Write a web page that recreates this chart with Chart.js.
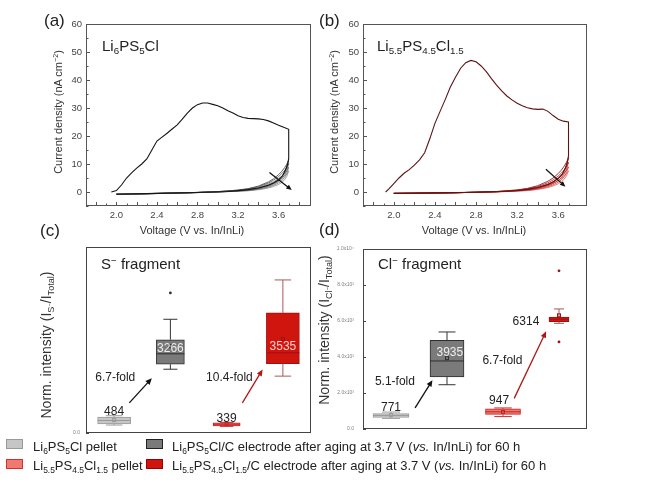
<!DOCTYPE html>
<html>
<head>
<meta charset="utf-8">
<script src="https://cdn.jsdelivr.net/npm/chart.js@4.4.1/dist/chart.umd.min.js"></script>
<style>
  body { margin: 0; background: #fff; font-family: 'Liberation Sans', Arial, sans-serif; color: #222; }
  #fig { position: relative; width: 651px; height: 485px; overflow: hidden; }
  canvas { position: absolute; }
  .t { position: absolute; white-space: nowrap; line-height: 1; }
  .ctr { position: absolute; white-space: nowrap; line-height: 1; transform: translate(-50%, -50%); }
  .rot { position: absolute; white-space: nowrap; line-height: 1; transform: translate(-50%, -50%) rotate(-90deg); }
  sub { font-size: 65%; vertical-align: -0.3em; line-height: 0; }
  sup { font-size: 65%; vertical-align: 0.5em; line-height: 0; }
  .sw { position: absolute; width: 17px; height: 10px; box-sizing: border-box; }
</style>
</head>
<body>
<div id="fig">
  <canvas id="cvA" width="275" height="214" style="left:46px;top:14px"></canvas>
  <canvas id="cvB" width="274" height="214" style="left:323px;top:14px"></canvas>
  <canvas id="boxS" width="275" height="205" style="left:46px;top:237px"></canvas>
  <canvas id="boxCl" width="274" height="204" style="left:323px;top:237px"></canvas>

  <!-- panel letters -->
  <div class="t" style="left:44px;top:12px;font-size:17px">(a)</div>
  <div class="t" style="left:319px;top:12px;font-size:17px">(b)</div>
  <div class="t" style="left:40px;top:222px;font-size:17px">(c)</div>
  <div class="t" style="left:319px;top:221px;font-size:17px">(d)</div>

  <!-- panel titles -->
  <div class="t" style="left:102px;top:38px;font-size:15px">Li<sub>6</sub>PS<sub>5</sub>Cl</div>
  <div class="t" style="left:377px;top:38px;font-size:15px">Li<sub>5.5</sub>PS<sub>4.5</sub>Cl<sub>1.5</sub></div>
  <div class="t" style="left:101px;top:256px;font-size:15px">S<sup>−</sup> fragment</div>
  <div class="t" style="left:378px;top:256px;font-size:15px">Cl<sup>−</sup> fragment</div>

  <!-- axis titles -->
  <div class="rot" style="left:58px;top:112px;font-size:11px;color:#333">Current density (nA cm<sup>−2</sup>)</div>
  <div class="rot" style="left:334px;top:112px;font-size:11px;color:#333">Current density (nA cm<sup>−2</sup>)</div>
  <div class="ctr" style="left:192px;top:230px;font-size:11px;color:#333">Voltage (V vs. In/InLi)</div>
  <div class="ctr" style="left:474px;top:230px;font-size:11px;color:#333">Voltage (V vs. In/InLi)</div>
  <div class="rot" style="left:46px;top:345px;font-size:14px;color:#333">Norm. intensity (I<sub>S<sup>−</sup></sub>/I<sub>Total</sub>)</div>
  <div class="rot" style="left:324px;top:330px;font-size:14px;color:#333">Norm. intensity (I<sub>Cl<sup>−</sup></sub>/I<sub>Total</sub>)</div>

  <!-- legend -->
  <div class="sw" style="left:6px;top:439px;background:#c6c6c6;border:1px solid #999"></div>
  <div class="t" style="left:33px;top:440px;font-size:13px">Li<sub>6</sub>PS<sub>5</sub>Cl pellet</div>
  <div class="sw" style="left:146px;top:439px;background:#7a7a7a;border:1px solid #222"></div>
  <div class="t" style="left:172px;top:440px;font-size:13px">Li<sub>6</sub>PS<sub>5</sub>Cl/C electrode after aging at 3.7 V (<i>vs.</i> In/InLi) for 60 h</div>
  <div class="sw" style="left:6px;top:459px;background:#f07a70;border:1px solid #d03030"></div>
  <div class="t" style="left:33px;top:459px;font-size:13px">Li<sub>5.5</sub>PS<sub>4.5</sub>Cl<sub>1.5</sub> pellet</div>
  <div class="sw" style="left:146px;top:459px;background:#d0150e;border:1px solid #900"></div>
  <div class="t" style="left:172px;top:459px;font-size:13px">Li<sub>5.5</sub>PS<sub>4.5</sub>Cl<sub>1.5</sub>/C electrode after aging at 3.7 V (<i>vs.</i> In/InLi) for 60 h</div>
</div>

<script>
// ---- CV data, panel (a) Li6PS5Cl: first cycle (forward then back) ----
const voltA1 = [1.95, 2.0, 2.05, 2.1, 2.15, 2.2, 2.25, 2.3, 2.35, 2.4, 2.45, 2.5, 2.55, 2.6, 2.65, 2.7, 2.75, 2.8, 2.85, 2.9,
  2.95, 3.0, 3.05, 3.1, 3.15, 3.2, 3.25, 3.3, 3.35, 3.4, 3.45, 3.5, 3.55, 3.6, 3.65, 3.7,
  3.7, 3.69, 3.67, 3.64, 3.6, 3.55, 3.5, 3.4, 3.3, 3.2, 3.1, 2.8, 2.4, 2.0];
const currA1 = [0, 0.5, 2.5, 5.0, 6.8, 8.5, 10.0, 11.8, 15.0, 18.2, 19.6, 21.0, 22.5, 24.0, 26.0, 28.2, 30.0, 31.2, 31.8, 31.8,
  31.3, 30.8, 30.0, 29.0, 28.2, 27.2, 26.6, 26.3, 26.2, 26.1, 25.9, 25.4, 24.6, 23.8, 23.1, 22.4,
  12.0, 10.0, 8.0, 5.8, 4.3, 3.2, 2.4, 1.4, 0.85, 0.5, 0.2, -0.2, -0.5, -0.8];

// later cycles share one voltage sweep (forward then back)
const loopV = [2.0, 2.2, 2.4, 2.6, 2.8, 3.0, 3.1, 3.2, 3.3, 3.35, 3.4, 3.45, 3.5, 3.55, 3.6, 3.63, 3.66, 3.68, 3.7,
  3.69, 3.68, 3.66, 3.63, 3.6, 3.55, 3.5, 3.4, 3.3, 3.2, 3.0, 2.8, 2.6, 2.4, 2.2, 2.0];
const loopsA = [
  [-0.8, -0.7, -0.55, -0.4, -0.2, 0.05, 0.25, 0.45, 0.75, 1.0, 1.35, 1.8, 2.4, 3.2, 4.4, 5.4, 7.0, 8.7, 11.5,
    10.6, 9.9, 8.7, 7.3, 6.2, 4.7, 3.6, 2.1, 1.2, 0.7, 0.15, -0.15, -0.35, -0.5, -0.65, -0.8],
  [-0.8, -0.7, -0.55, -0.4, -0.2, 0.03, 0.2, 0.38, 0.63, 0.85, 1.15, 1.55, 2.05, 2.75, 3.8, 4.7, 6.1, 7.6, 10.2,
    9.4, 8.8, 7.7, 6.5, 5.5, 4.2, 3.2, 1.9, 1.1, 0.62, 0.12, -0.15, -0.35, -0.5, -0.65, -0.8],
  [-0.8, -0.7, -0.55, -0.4, -0.2, 0.02, 0.16, 0.32, 0.53, 0.72, 0.97, 1.3, 1.75, 2.35, 3.25, 4.0, 5.2, 6.5, 8.9,
    8.2, 7.6, 6.7, 5.6, 4.8, 3.6, 2.8, 1.65, 0.95, 0.55, 0.1, -0.15, -0.35, -0.5, -0.65, -0.8],
  [-0.8, -0.7, -0.55, -0.4, -0.22, 0.0, 0.13, 0.26, 0.44, 0.6, 0.8, 1.08, 1.45, 1.95, 2.7, 3.35, 4.4, 5.5, 7.6,
    7.0, 6.5, 5.7, 4.8, 4.1, 3.1, 2.4, 1.4, 0.8, 0.47, 0.08, -0.15, -0.35, -0.5, -0.65, -0.8]
];

// ---- CV data, panel (b) Li5.5PS4.5Cl1.5 ----
const voltB1 = [1.92, 1.95, 2.0, 2.05, 2.1, 2.15, 2.2, 2.25, 2.3, 2.35, 2.4, 2.45, 2.5, 2.55, 2.6, 2.65, 2.7, 2.75, 2.8, 2.85, 2.9,
  2.95, 3.0, 3.05, 3.1, 3.15, 3.2, 3.25, 3.3, 3.35, 3.4, 3.45, 3.5, 3.55, 3.6, 3.65, 3.7,
  3.7, 3.69, 3.67, 3.64, 3.6, 3.55, 3.5, 3.4, 3.3, 3.2, 3.1, 2.8, 2.4, 2.0];
const currB1 = [0, 1.0, 3.0, 5.0, 6.7, 8.0, 9.6, 11.5, 14.0, 19.0, 24.5, 28.8, 33.0, 37.5, 41.0, 44.2, 46.2, 47.0, 46.5, 45.0, 43.0,
  40.5, 38.2, 36.1, 34.3, 32.9, 31.7, 30.8, 30.1, 29.7, 29.5, 29.6, 28.8, 27.3, 26.0, 25.3, 25.0,
  13.0, 10.8, 8.6, 6.4, 4.9, 3.6, 2.7, 1.6, 0.95, 0.55, 0.25, -0.1, -0.3, -0.5];
const loopsB = [
  [-0.5, -0.45, -0.35, -0.25, -0.1, 0.1, 0.3, 0.52, 0.85, 1.12, 1.5, 2.0, 2.65, 3.5, 4.8, 5.9, 7.6, 9.4, 12.3,
    11.4, 10.6, 9.3, 7.8, 6.6, 5.0, 3.85, 2.25, 1.3, 0.75, 0.18, -0.1, -0.25, -0.35, -0.45, -0.5],
  [-0.5, -0.45, -0.35, -0.25, -0.1, 0.08, 0.25, 0.44, 0.72, 0.95, 1.27, 1.7, 2.25, 3.0, 4.1, 5.1, 6.5, 8.1, 10.6,
    9.8, 9.1, 8.0, 6.7, 5.7, 4.3, 3.3, 1.95, 1.12, 0.65, 0.15, -0.1, -0.25, -0.35, -0.45, -0.5],
  [-0.5, -0.45, -0.35, -0.25, -0.1, 0.06, 0.2, 0.36, 0.6, 0.8, 1.07, 1.43, 1.9, 2.55, 3.5, 4.3, 5.5, 6.9, 9.0,
    8.3, 7.7, 6.8, 5.7, 4.9, 3.7, 2.85, 1.68, 0.97, 0.56, 0.12, -0.1, -0.25, -0.35, -0.45, -0.5],
  [-0.5, -0.45, -0.35, -0.25, -0.1, 0.04, 0.16, 0.3, 0.5, 0.67, 0.9, 1.2, 1.6, 2.15, 2.95, 3.65, 4.65, 5.8, 7.6,
    7.0, 6.5, 5.7, 4.8, 4.1, 3.1, 2.4, 1.42, 0.82, 0.48, 0.1, -0.1, -0.25, -0.35, -0.45, -0.5]
];

// arrows showing the decay over cycles: [V start, I start, V end, I end]
const cvArrowA = [3.51, 7.0, 3.73, 0.7];
const cvArrowB = [3.48, 8.1, 3.67, 1.9];

// ---- ToF-SIMS box plots ----
const groups = ['Li6PS5Cl pellet', 'Li6PS5Cl/C aged', 'Li5.5PS4.5Cl1.5 pellet', 'Li5.5PS4.5Cl1.5/C aged'];

// S- fragment
const sLow  = [300, 2400, 250, 2140];
const sQ1   = [340, 2590, 270, 2610];
const sMed  = [470, 2980, 330, 3020];
const sQ3   = [600, 3510, 380, 4520];
const sHigh = [650, 4280, 400, 5760];
const sMean = [484, 3266, 339, 3535];
const sOut  = [[], [5270], [], []];

// Cl- fragment
const clLow  = [590, 2460, 690, 5870];
const clQ1   = [640, 2900, 810, 5960];
const clMed  = [745, 3780, 955, 6100];
const clQ3   = [850, 4930, 1120, 6220];
const clHigh = [940, 5390, 1170, 6670];
const clMean = [771, 3935, 947, 6314];
const clOut  = [[], [], [], [8790, 4840]];

const boxFill   = ['#c6c6c6', '#7a7a7a', '#f07a70', '#d0150e'];
const boxEdge   = ['#9a9a9a', '#2e2e2e', '#c82020', '#a01010'];
const whiskerCl = ['#999999', '#333333', '#c03030', '#a85858'];

Chart.defaults.font.family = "'Liberation Sans', Arial, sans-serif";
Chart.defaults.color = '#444';

function zip(xs, ys) {
  return xs.map((x, k) => ({ x: x, y: ys[k] }));
}

function drawArrow(ctx, x1, y1, x2, y2, color, head) {
  const ang = Math.atan2(y2 - y1, x2 - x1);
  ctx.save();
  ctx.strokeStyle = color;
  ctx.fillStyle = color;
  ctx.lineWidth = 1.3;
  ctx.beginPath();
  ctx.moveTo(x1, y1);
  ctx.lineTo(x2 - Math.cos(ang) * head * 0.7, y2 - Math.sin(ang) * head * 0.7);
  ctx.stroke();
  ctx.beginPath();
  ctx.moveTo(x2, y2);
  ctx.lineTo(x2 - head * Math.cos(ang - 0.42), y2 - head * Math.sin(ang - 0.42));
  ctx.lineTo(x2 - head * Math.cos(ang + 0.42), y2 - head * Math.sin(ang + 0.42));
  ctx.closePath();
  ctx.fill();
  ctx.restore();
}

// box around the plot area plus inward tick marks
function framePlugin(xLen, yLen, color) {
  return {
    id: 'frame',
    afterDatasetsDraw(chart) {
      const { ctx, chartArea: a, scales: { x, y } } = chart;
      ctx.save();
      ctx.strokeStyle = color;
      ctx.lineWidth = 1;
      ctx.strokeRect(Math.round(a.left) + 0.5, Math.round(a.top) + 0.5, Math.round(a.width) - 1, Math.round(a.height) - 1);
      ctx.beginPath();
      if (xLen) {
        x.ticks.forEach(t => {
          const len = xLen(t.value);
          if (!len) return;
          const px = Math.round(x.getPixelForValue(t.value)) + 0.5;
          ctx.moveTo(px, a.bottom);
          ctx.lineTo(px, a.bottom - len);
        });
      }
      y.ticks.forEach(t => {
        const len = yLen(t.value);
        if (!len) return;
        const py = Math.round(y.getPixelForValue(t.value)) + 0.5;
        ctx.moveTo(a.left, py);
        ctx.lineTo(a.left + len, py);
      });
      ctx.stroke();
      ctx.restore();
    }
  };
}

function isStep(v, step) {
  const r = v / step;
  return Math.abs(r - Math.round(r)) < 1e-6;
}

function createCvChart(canvasId, v1, i1, loops, colors, xMax, arrow) {
  const ctx = document.getElementById(canvasId).getContext('2d');

  const datasets = [{ data: zip(v1, i1), borderColor: colors[0], borderWidth: 1.1 }]
    .concat(loops.map((cur, k) => ({ data: zip(loopV, cur), borderColor: colors[k + 1], borderWidth: 0.9 })));
  datasets.forEach(d => {
    d.showLine = true;
    d.pointRadius = 0;
  });

  new Chart(ctx, {
    type: 'scatter',
    data: { datasets: datasets },
    options: {
      responsive: false,
      animation: false,
      devicePixelRatio: 1,
      layout: { padding: { top: 10, right: 10, left: 0, bottom: 0 } },
      plugins: { legend: { display: false }, tooltip: { enabled: false } },
      scales: {
        x: {
          min: 1.7,
          max: xMax,
          afterFit: s => { s.height = 22; },
          grid: { display: false, drawTicks: false },
          border: { display: false },
          ticks: {
            stepSize: 0.1,
            autoSkip: false,
            maxRotation: 0,
            padding: 4,
            color: '#444',
            font: { size: 9.5 },
            callback: v => {
              const t = Math.round(v * 10);
              return (isStep(v, 0.1) && t % 4 === 0) ? (t / 10).toFixed(1) : '';
            }
          }
        },
        y: {
          min: -5,
          max: 60,
          afterFit: s => { s.width = 40; },
          grid: { display: false, drawTicks: false },
          border: { display: false },
          ticks: {
            stepSize: 5,
            autoSkip: false,
            padding: 4,
            color: '#444',
            font: { size: 9.5 },
            callback: v => (isStep(v, 10) ? Math.round(v) : '')
          }
        }
      }
    },
    plugins: [
      framePlugin(
        v => (isStep(v, 0.1) ? (isStep(v, 0.2) ? 4 : 2.5) : 0),
        v => (isStep(v, 10) ? 4 : 2.5),
        '#555'
      ),
      {
        id: 'cvArrow',
        afterDatasetsDraw(chart) {
          const { x, y } = chart.scales;
          drawArrow(chart.ctx, x.getPixelForValue(arrow[0]), y.getPixelForValue(arrow[1]),
            x.getPixelForValue(arrow[2]), y.getPixelForValue(arrow[3]), '#111', 6);
        }
      }
    ]
  });
}

function sciLabel(v) {
  if (v === 0) return '0.0';
  const e = Math.floor(Math.log10(v) + 1e-9);
  const sup = { 3: '³', 4: '⁴' };
  return (v / Math.pow(10, e)).toFixed(1) + 'x10' + sup[e];
}

function createBoxChart(canvasId, st, widths, yMax, tickPad, notes, arrows) {
  const ctx = document.getElementById(canvasId).getContext('2d');

  // one floating bar (Q1..Q3) per group, each its own dataset so widths can differ
  const datasets = groups.map((g, i) => ({
    label: g,
    data: groups.map((_, j) => (j === i ? [st.q1[i], st.q3[i]] : null)),
    backgroundColor: boxFill[i],
    borderColor: boxEdge[i],
    borderWidth: 1,
    borderSkipped: false,
    grouped: false,
    barThickness: widths[i]
  }));

  new Chart(ctx, {
    type: 'bar',
    data: { labels: groups, datasets: datasets },
    options: {
      responsive: false,
      animation: false,
      devicePixelRatio: 1,
      layout: { padding: { top: 10, right: 10, left: 0, bottom: 6 } },
      plugins: { legend: { display: false }, tooltip: { enabled: false } },
      scales: {
        x: { display: false },
        y: {
          min: 0,
          max: yMax,
          afterFit: s => { s.width = 40; },
          grid: { display: false, drawTicks: false },
          border: { display: false },
          ticks: {
            stepSize: 2000,
            autoSkip: false,
            padding: tickPad,
            color: '#808080',
            font: { size: 5 },
            callback: v => (isStep(v, 2000) ? sciLabel(v) : '')
          }
        }
      }
    },
    plugins: [
      framePlugin(null, v => (isStep(v, 2000) ? 3 : 0), '#444'),
      {
        id: 'boxExtras',
        afterDatasetsDraw(chart) {
          const c = chart.ctx;
          const { x, y } = chart.scales;
          c.save();
          groups.forEach((g, i) => {
            const cx = x.getPixelForValue(i);
            const half = widths[i] / 2;
            const cap = widths[i] * 0.25;
            c.strokeStyle = whiskerCl[i];
            c.lineWidth = 1;
            c.beginPath();
            // whiskers with caps
            c.moveTo(cx, y.getPixelForValue(st.q3[i]));
            c.lineTo(cx, y.getPixelForValue(st.high[i]));
            c.moveTo(cx - cap, y.getPixelForValue(st.high[i]));
            c.lineTo(cx + cap, y.getPixelForValue(st.high[i]));
            c.moveTo(cx, y.getPixelForValue(st.q1[i]));
            c.lineTo(cx, y.getPixelForValue(st.low[i]));
            c.moveTo(cx - cap, y.getPixelForValue(st.low[i]));
            c.lineTo(cx + cap, y.getPixelForValue(st.low[i]));
            c.stroke();
            // median
            c.strokeStyle = boxEdge[i];
            c.beginPath();
            c.moveTo(cx - half, y.getPixelForValue(st.med[i]));
            c.lineTo(cx + half, y.getPixelForValue(st.med[i]));
            c.stroke();
            // mean marker
            const my = y.getPixelForValue(st.mean[i]);
            c.strokeRect(cx - 1.5, my - 1.5, 3, 3);
            // outliers
            c.fillStyle = boxEdge[i];
            st.out[i].forEach(o => {
              c.beginPath();
              c.arc(cx, y.getPixelForValue(o), 1.4, 0, Math.PI * 2);
              c.fill();
            });
          });

          arrows.forEach(a => {
            drawArrow(c, x.getPixelForValue(a.from[0]), y.getPixelForValue(a.from[1]),
              x.getPixelForValue(a.to[0]), y.getPixelForValue(a.to[1]), a.color, 7);
          });

          c.font = "12px 'Liberation Sans', Arial, sans-serif";
          c.textAlign = 'center';
          c.textBaseline = 'middle';
          notes.forEach(n => {
            c.fillStyle = n.color || '#222';
            c.fillText(n.text, x.getPixelForValue(n.at[0]), y.getPixelForValue(n.at[1]));
          });
          c.restore();
        }
      }
    ]
  });
}

function fold(means, a, b) {
  return (means[b] / means[a]).toFixed(1) + '-fold';
}

createCvChart('cvA', voltA1, currA1, loopsA, ['#151515', '#505050', '#6a6a6a', '#808080', '#959595'], 3.92, cvArrowA);
createCvChart('cvB', voltB1, currB1, loopsB, ['#5a1515', '#9a2020', '#c43030', '#d65050', '#e27070'], 3.88, cvArrowB);

createBoxChart('boxS',
  { low: sLow, q1: sQ1, med: sMed, q3: sQ3, high: sHigh, mean: sMean, out: sOut },
  [33, 28, 27, 33], 7000, 6,
  [
    { text: String(sMean[0]), at: [0, 802] },
    { text: String(sMean[1]), at: [1, 3160], color: '#eeeeee' },
    { text: String(sMean[2]), at: [2, 543] },
    { text: String(sMean[3]), at: [3, 3240], color: '#f6d0cc' },
    { text: fold(sMean, 0, 1), at: [0.02, 2096] },
    { text: fold(sMean, 2, 3), at: [2.05, 2096] }
  ],
  [
    { from: [0.27, 1135], to: [0.67, 2060], color: '#111' },
    { from: [2.28, 1135], to: [2.64, 2392], color: '#b01818' }
  ]);

createBoxChart('boxCl',
  { low: clLow, q1: clQ1, med: clMed, q3: clQ3, high: clHigh, mean: clMean, out: clOut },
  [36, 34, 35, 20], 10000, 9,
  [
    { text: String(clMean[0]), at: [0, 1170] },
    { text: String(clMean[1]), at: [1.05, 4234], color: '#eeeeee' },
    { text: String(clMean[2]), at: [1.93, 1574] },
    { text: String(clMean[3]), at: [2.41, 5957] },
    { text: fold(clMean, 0, 1), at: [0.07, 2638] },
    { text: fold(clMean, 2, 3), at: [1.99, 3792] }
  ],
  [
    { from: [0.43, 1170], to: [0.74, 2713], color: '#111' },
    { from: [2.2, 1702], to: [2.77, 5425], color: '#b01818' }
  ]);
</script>
</body>
</html>
